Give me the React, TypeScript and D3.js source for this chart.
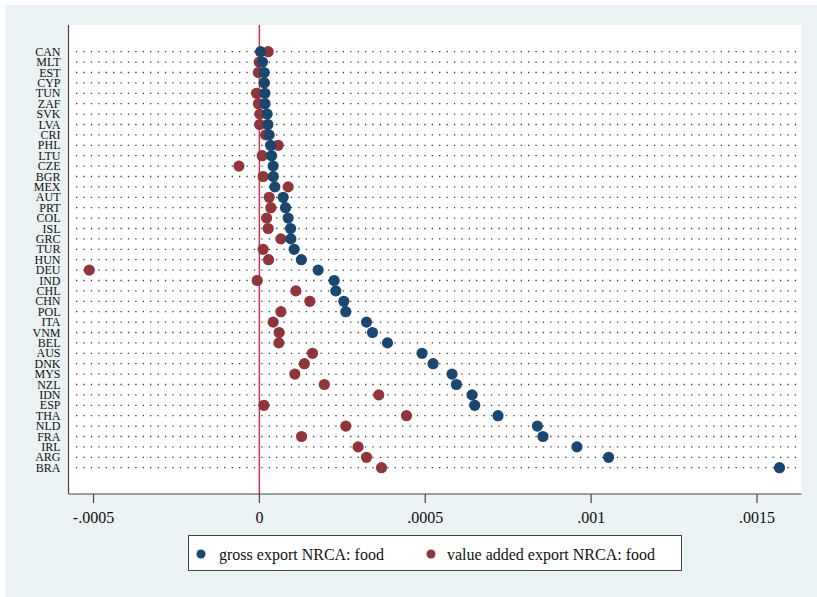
import React from 'react';
import * as d3 from 'd3';

const WIDTH = 817;
const HEIGHT = 597;

// countries, top to bottom
const countries = [
  'CAN', 'MLT', 'EST', 'CYP', 'TUN', 'ZAF', 'SVK', 'LVA', 'CRI', 'PHL', 'LTU',
  'CZE', 'BGR', 'MEX', 'AUT', 'PRT', 'COL', 'ISL', 'GRC', 'TUR', 'HUN', 'DEU',
  'IND', 'CHL', 'CHN', 'POL', 'ITA', 'VNM', 'BEL', 'AUS', 'DNK', 'MYS', 'NZL',
  'IDN', 'ESP', 'THA', 'NLD', 'FRA', 'IRL', 'ARG', 'BRA',
];

// gross export NRCA: food
const grossExport = [
  0.0000036, 0.0000096, 0.0000145, 0.0000150, 0.0000166, 0.0000170, 0.0000235,
  0.0000256, 0.0000295, 0.0000337, 0.0000367, 0.0000416, 0.0000420, 0.0000467,
  0.0000717, 0.0000789, 0.0000867, 0.0000940, 0.0000949, 0.0001048, 0.0001265,
  0.0001771, 0.0002253, 0.0002304, 0.0002545, 0.0002605, 0.0003229, 0.0003410,
  0.0003861, 0.0004904, 0.0005235, 0.0005807, 0.0005940, 0.0006410, 0.0006491,
  0.0007193, 0.0008380, 0.0008548, 0.0009572, 0.0010527, 0.0015678,
];

// value added export NRCA: food
const valueAddedExport = [
  0.0000265, -0.0000006, -0.0000030, 0.0000140, -0.0000084, -0.0000030, 0.0000015,
  0.0000010, 0.0000187, 0.0000566, 0.0000084, -0.0000617, 0.0000114, 0.0000867,
  0.0000295, 0.0000346, 0.0000217, 0.0000265, 0.0000648, 0.0000114, 0.0000277,
  -0.0005127, -0.0000066, 0.0001100, 0.0001521, 0.0000648, 0.0000416, 0.0000596,
  0.0000587, 0.0001602, 0.0001355, 0.0001069, 0.0001958, 0.0003600, 0.0000136,
  0.0004434, 0.0002605, 0.0001271, 0.0002976, 0.0003229, 0.0003681,
];

const xTicks = [-0.0005, 0, 0.0005, 0.001, 0.0015];
const legendLabels = ['gross export NRCA: food', 'value added export NRCA: food'];

const BLUE = '#1a476f';
const RED = '#90353b';
const SERIF = '"Liberation Serif", "Times New Roman", serif';

const plot = { left: 68.5, right: 801.5, top: 25, bottom: 494 };

const fmt = (v: number) => (v === 0 ? '0' : String(v).replace('0.', '.'));

export default function App() {
  const x = d3.scaleLinear().domain([-0.0005, 0.0015]).range([93.5, 757]);
  const y = d3.scalePoint<string>().domain(countries).range([51.7, 467.7]);

  return (
    <svg
      xmlns="http://www.w3.org/2000/svg"
      width={WIDTH}
      height={HEIGHT}
      style={{ position: 'absolute', left: 0, top: 0, background: '#fff' }}
    >
      <rect x={5} y={5} width={WIDTH - 5} height={HEIGHT - 5} fill="#eaf2f3" />
      <rect
        x={plot.left}
        y={plot.top}
        width={plot.right - plot.left}
        height={plot.bottom - plot.top}
        fill="#fff"
      />

      {/* dotted guide lines */}
      {countries.map(c => (
        <line
          key={'g' + c}
          x1={76}
          x2={797}
          y1={y(c)}
          y2={y(c)}
          stroke="#3a3a3a"
          strokeWidth={1.3}
          strokeDasharray="1.3 6.11"
        />
      ))}

      {/* zero line */}
      <line x1={x(0)} x2={x(0)} y1={plot.top} y2={plot.bottom} stroke="#e0204f" strokeWidth={1.4} />

      {/* points */}
      {countries.map((c, i) => (
        <circle key={'r' + c} cx={x(valueAddedExport[i])} cy={y(c)} r={5.6} fill={RED} />
      ))}
      {countries.map((c, i) => (
        <circle key={'b' + c} cx={x(grossExport[i])} cy={y(c)} r={5.6} fill={BLUE} />
      ))}

      {/* axes */}
      <line x1={plot.left} x2={plot.left} y1={plot.top} y2={plot.bottom} stroke="#444" strokeWidth={1.2} />
      <line x1={plot.left} x2={plot.right} y1={plot.bottom} y2={plot.bottom} stroke="#444" strokeWidth={1.2} />

      {countries.map(c => (
        <text
          key={'l' + c}
          x={60.5}
          y={y(c)}
          textAnchor="end"
          dominantBaseline="central"
          fontFamily={SERIF}
          fontSize={12}
          fill="#111"
        >
          {c}
        </text>
      ))}

      {xTicks.map(t => (
        <g key={'t' + t}>
          <line x1={x(t)} x2={x(t)} y1={plot.bottom} y2={plot.bottom + 9} stroke="#444" strokeWidth={1.2} />
          <text
            x={x(t)}
            y={517}
            textAnchor="middle"
            dominantBaseline="central"
            fontFamily={SERIF}
            fontSize={16}
            fill="#111"
          >
            {fmt(t)}
          </text>
        </g>
      ))}

      {/* legend */}
      <rect x={188.5} y={535.5} width={493} height={35} fill="#fff" stroke="#444" strokeWidth={1} />
      <circle cx={201} cy={554} r={4.5} fill={BLUE} />
      <text x={219} y={554} dominantBaseline="central" fontFamily={SERIF} fontSize={16} fill="#111">
        {legendLabels[0]}
      </text>
      <circle cx={431} cy={554} r={4.5} fill={RED} />
      <text x={447} y={554} dominantBaseline="central" fontFamily={SERIF} fontSize={16} fill="#111">
        {legendLabels[1]}
      </text>
    </svg>
  );
}
